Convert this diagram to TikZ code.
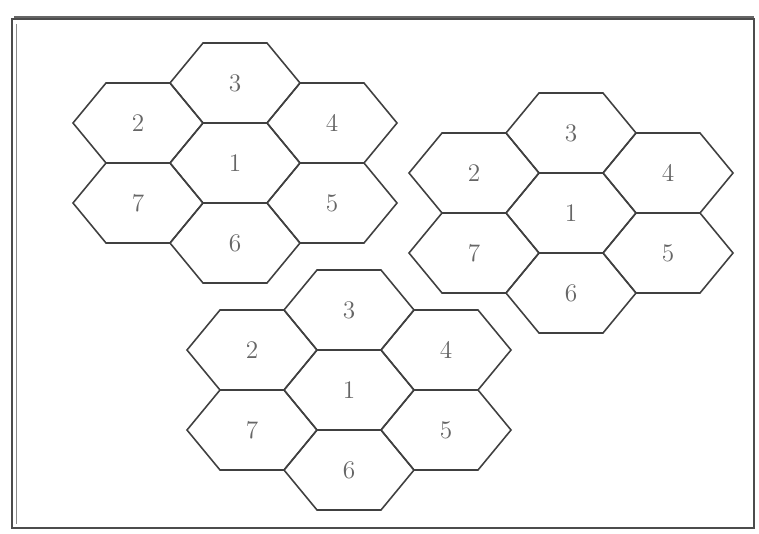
\documentclass[tikz,border=0pt]{standalone}
\usepackage{tikz}
\usetikzlibrary{positioning}

\begin{document}
\begin{tikzpicture}[
  x=0.02cm, y=-0.02cm,
  cell/.style={draw=black!75, line width=0.9pt, line join=miter},
  num/.style={font=\Large, text=black!60, inner sep=1pt},
  frame/.style={draw=black!70, line width=1.6pt}
]
\useasboundingbox (0,0) rectangle (759,533);
% outer frame
\draw[frame] (12,19) rectangle (754,528);
\draw[black!60, line width=1.2pt] (14,17) -- (754,17);
\draw[black!45, line width=0.5pt] (16,24) -- (16,524);

% three clusters of seven cells (1 in the middle)
\foreach \cl/\cx/\cy in {a/235/163, b/571/213, c/349/390} {
  \foreach \n/\dx/\dy in {1/0/0, 2/-97/-40, 3/0/-80, 4/97/-40, 5/97/40, 6/0/80, 7/-97/40} {
    \draw[cell] (\cx+\dx-65,\cy+\dy) -- (\cx+\dx-32,\cy+\dy-40) -- (\cx+\dx+32,\cy+\dy-40)
      -- (\cx+\dx+65,\cy+\dy) -- (\cx+\dx+32,\cy+\dy+40) -- (\cx+\dx-32,\cy+\dy+40) -- cycle;
    \node[num] (\cl\n) at (\cx+\dx,\cy+\dy) {\n};
  }
}
\end{tikzpicture}
\end{document}
